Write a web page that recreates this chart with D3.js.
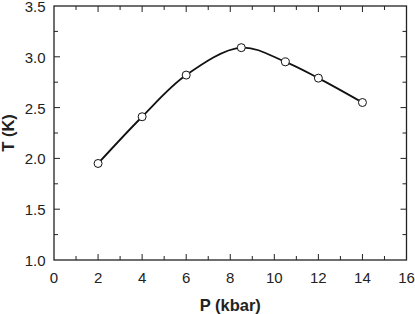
<!DOCTYPE html>
<html><head><meta charset="utf-8">
<script src="https://cdn.jsdelivr.net/npm/d3@7"></script>
<style>body{margin:0;background:#fff}svg{display:block}text{font-family:"Liberation Sans",Arial,sans-serif}</style>
</head><body>
<script>
const pressure = [2, 4, 6, 8.5, 10.5, 12, 14];
const temperature = [1.95, 2.41, 2.82, 3.09, 2.95, 2.79, 2.55];
const xTicks = [0, 2, 4, 6, 8, 10, 12, 14, 16];
const yTicks = [1.0, 1.5, 2.0, 2.5, 3.0, 3.5];
const xMinor = [1, 3, 5, 7, 9, 11, 13, 15];
const yMinor = [1.25, 1.75, 2.25, 2.75, 3.25];

const W = 415, H = 314;
const m = {l: 54, r: 8.5, t: 6, b: 54};
const svg = d3.select("body").append("svg").attr("width", W).attr("height", H);
const x = d3.scaleLinear().domain([0, 16]).range([m.l, W - m.r]);
const y = d3.scaleLinear().domain([1, 3.5]).range([H - m.b, m.t]);
const col = "#222";

svg.append("rect").attr("x", x(0)).attr("y", y(3.5)).attr("width", x(16) - x(0)).attr("height", y(1) - y(3.5))
  .attr("fill", "none").attr("stroke", col).attr("stroke-width", 1.3);

const g = svg.append("g").attr("stroke", col).attr("stroke-width", 1);
function ticks(arr, len, isX) {
  arr.forEach(v => {
    if (isX) {
      g.append("line").attr("x1", x(v)).attr("x2", x(v)).attr("y1", y(1)).attr("y2", y(1) - len);
      g.append("line").attr("x1", x(v)).attr("x2", x(v)).attr("y1", y(3.5)).attr("y2", y(3.5) + len);
    } else {
      g.append("line").attr("y1", y(v)).attr("y2", y(v)).attr("x1", x(0)).attr("x2", x(0) + len);
      g.append("line").attr("y1", y(v)).attr("y2", y(v)).attr("x1", x(16)).attr("x2", x(16) - len);
    }
  });
}
ticks(xTicks.slice(1, -1), 6, true);
ticks(xMinor, 4, true);
ticks(yTicks.slice(1, -1), 6, false);
ticks(yMinor, 4, false);

svg.append("g").selectAll("text").data(xTicks).join("text")
  .attr("x", d => x(d)).attr("y", 282.5).attr("text-anchor", "middle")
  .attr("font-size", 15).attr("fill", col).text(d => d);
svg.append("g").selectAll("text").data(yTicks).join("text")
  .attr("x", 45.5).attr("y", d => y(d) + 6).attr("text-anchor", "end")
  .attr("font-size", 15).attr("fill", col).text(d => d.toFixed(1));

svg.append("text").attr("x", x(8)).attr("y", 311).attr("text-anchor", "middle")
  .attr("font-size", 16.5).attr("font-weight", "bold").attr("fill", col).text("P (kbar)");
svg.append("text").attr("transform", `translate(13.5,${(y(1) + y(3.5)) / 2}) rotate(-90)`)
  .attr("text-anchor", "middle").attr("font-size", 16.5).attr("font-weight", "bold").attr("fill", col).text("T (K)");

const data = pressure.map((p, i) => [p, temperature[i]]);
svg.append("path").datum(data)
  .attr("d", d3.line().x(d => x(d[0])).y(d => y(d[1])).curve(d3.curveCatmullRom.alpha(0.5)))
  .attr("fill", "none").attr("stroke", "#111").attr("stroke-width", 1.8);
svg.append("g").selectAll("circle").data(data).join("circle")
  .attr("cx", d => x(d[0])).attr("cy", d => y(d[1])).attr("r", 4)
  .attr("fill", "#fff").attr("stroke", "#111").attr("stroke-width", 1);
</script>
</body></html>
